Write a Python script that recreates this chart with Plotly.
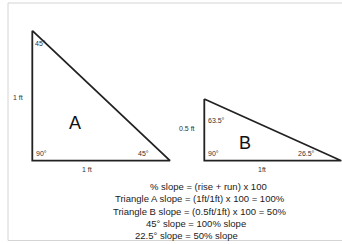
import plotly.graph_objects as go

# Triangle vertices (pixel-space diagram coordinates)
tri_a_x = [32.3, 32.3, 170, 32.3]
tri_a_y = [30.7, 160.7, 160.7, 30.7]
tri_b_x = [204.3, 204.3, 341.3, 204.3]
tri_b_y = [99, 160.7, 160.7, 99]

# Small labels: text, x, y, anchor
small_labels = ["45°", "90°", "45°", "1 ft", "1 ft", "63.5°", "90°", "26.5°", "0.5 ft", "1ft"]
small_x = [33.3, 33.5, 135.5, 18, 87, 206, 206, 295.5, 187, 261.5]
small_y = [43, 153, 153, 97, 169, 120, 153, 153, 128.7, 169]
small_anchor = ["left", "left", "left", "center", "center", "left", "left", "left", "center", "center"]

big_labels = ["A", "B"]
big_x = [75, 245]
big_y = [122.5, 143]

formula_lines = [
    "% slope = (rise + run) x 100",
    "Triangle A slope = (1ft/1ft) x 100 = 100%",
    "Triangle B slope = (0.5ft/1ft) x 100 = 50%",
    "45° slope = 100% slope",
    "22.5° slope = 50% slope",
]
formula_x = [208, 200, 199, 196, 186]
formula_y = [186, 198.5, 211, 223.3, 235.6]

FONT = "Liberation Sans, Arial, sans-serif"

fig = go.Figure()
for xs, ys in [(tri_a_x, tri_a_y), (tri_b_x, tri_b_y)]:
    fig.add_trace(go.Scatter(x=xs, y=ys, mode="lines",
                             line=dict(color="#222222", width=1.8),
                             hoverinfo="skip", showlegend=False))

for t, x, y, a in zip(small_labels, small_x, small_y, small_anchor):
    fig.add_annotation(x=x, y=y, text=t, showarrow=False, xanchor=a, yanchor="middle",
                       font=dict(family=FONT, size=7, color="#333333"))
for t, x, y in zip(big_labels, big_x, big_y):
    fig.add_annotation(x=x, y=y, text=t, showarrow=False, xanchor="center", yanchor="middle",
                       font=dict(family=FONT, size=18, color="#111111"))
for t, x, y in zip(formula_lines, formula_x, formula_y):
    fig.add_annotation(x=x, y=y, text=t, showarrow=False, xanchor="center", yanchor="middle",
                       font=dict(family=FONT, size=9.5, color="#222222"))

# light frame
fig.add_shape(type="line", xref="x", yref="y", x0=8, x1=342, y0=3, y1=3,
              line=dict(color="#d4d4d4", width=1))
fig.add_shape(type="line", xref="x", yref="y", x0=8, x1=8, y0=3, y1=240.5,
              line=dict(color="#d4d4d4", width=1))
fig.add_shape(type="line", xref="x", yref="y", x0=8, x1=342, y0=240.5, y1=240.5,
              line=dict(color="#d4d4d4", width=1))

fig.update_layout(
    width=342, height=244, margin=dict(l=0, r=0, t=0, b=0),
    paper_bgcolor="white", plot_bgcolor="white",
    xaxis=dict(range=[0, 342], visible=False, fixedrange=True),
    yaxis=dict(range=[244, 0], visible=False, fixedrange=True),
)
fig.write_html("out.html", config={"displayModeBar": False},
               post_script="document.body.style.margin='0';document.body.style.overflow='hidden';")
